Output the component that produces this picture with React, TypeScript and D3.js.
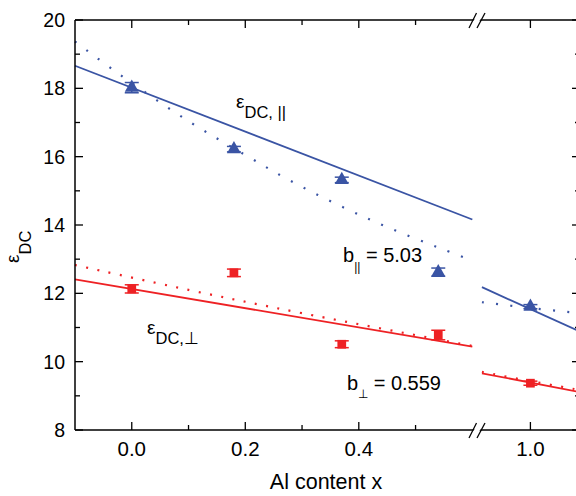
import React from "react";
import * as d3 from "d3";

// Al content of the samples and the measured static dielectric constants
const alContent = [0, 0.18, 0.37, 0.54, 1.0];
const epsPar = [18.02, 16.22, 15.32, 12.62, 11.61];
const errPar = [0.15, 0.08, 0.08, 0.12, 0.06];
const epsPerp = [12.13, 12.6, 10.51, 10.78, 9.37];
const errPerp = [0.12, 0.11, 0.1, 0.14, 0.06];

// solid (linear) fit lines, left and right of the axis break
const parLinX_L = [-0.1, 0.6];
const parLinY_L = [18.66, 14.16];
const parLinX_R = [0.914, 1.088];
const parLinY_R = [12.18, 10.88];
const perpLinX_L = [-0.1, 0.6];
const perpLinY_L = [12.41, 10.44];
const perpLinX_R = [0.914, 1.088];
const perpLinY_R = [9.66, 9.11];

// dotted (bowing) fit curves
const parBowX_L = [-0.1, -0.02, 0.1, 0.2, 0.28, 0.38, 0.46, 0.54, 0.6];
const parBowY_L = [19.37, 18.39, 17.04, 16.05, 15.29, 14.46, 13.87, 13.34, 12.96];
const parBowX_R = [0.914, 1.0, 1.088];
const parBowY_R = [11.74, 11.57, 11.42];
const perpBowX_L = [-0.1, 0.1, 0.3, 0.6];
const perpBowY_L = [12.83, 12.1, 11.42, 10.46];
const perpBowX_R = [0.914, 1.0, 1.088];
const perpBowY_R = [9.7, 9.43, 9.17];

const xMajorL = [0, 0.2, 0.4];
const xMinorL = [0.1, 0.3, 0.5];
const xMajorR = [1.0];
const yMajor = [8, 10, 12, 14, 16, 18, 20];
const yMinor = [9, 11, 13, 15, 17, 19];

const BLUE = "#3a54a4";
const RED = "#ee2124";
const FONT = "'Liberation Sans', Arial, sans-serif";

const App: React.FC = () => {
  const width = 576;
  const height = 496;
  const m = { left: 75, right: 580, top: 20, bottom: 430 };
  const xBreak = 478;

  const xL = d3.scaleLinear().domain([-0.1, 0.61]).range([m.left, xBreak]);
  const xR = d3.scaleLinear().domain([0.907, 1.088]).range([xBreak, m.right]);
  const y = d3.scaleLinear().domain([8, 20]).range([m.bottom, m.top]);
  const xAny = (v: number) => (v > 0.75 ? xR(v) : xL(v));

  const pathOf = (xs: number[], ys: number[], sx: (v: number) => number, curved = false) => {
    const gen = d3
      .line<number>()
      .x((_, i) => sx(xs[i]))
      .y((d) => y(d));
    if (curved) gen.curve(d3.curveCatmullRom);
    return gen(ys) ?? "";
  };

  const tri = d3.symbol().type(d3.symbolTriangle).size(84)() ?? "";
  const sq = d3.symbol().type(d3.symbolSquare).size(76)() ?? "";

  const errBar = (xv: number, yv: number, e: number, color: string, key: string) => {
    const cx = xAny(xv);
    return (
      <g key={key} stroke={color} strokeWidth={1.5}>
        <line x1={cx} x2={cx} y1={y(yv - e)} y2={y(yv + e)} />
        <line x1={cx - 7} x2={cx + 7} y1={y(yv - e)} y2={y(yv - e)} />
        <line x1={cx - 7} x2={cx + 7} y1={y(yv + e)} y2={y(yv + e)} />
      </g>
    );
  };

  const breakMark = (yy: number) => (
    <g>
      <polygon
        points={`${xBreak - 5},${yy + 1.5} ${xBreak + 1},${yy + 1.5} ${xBreak + 3},${yy - 1.5} ${xBreak - 3},${yy - 1.5}`}
        fill="white"
      />
      <line x1={xBreak - 9} y1={yy + 8} x2={xBreak - 1.5} y2={yy - 7} stroke="black" strokeWidth={1.3} />
      <line x1={xBreak - 1} y1={yy + 8} x2={xBreak + 7} y2={yy - 7} stroke="black" strokeWidth={1.3} />
    </g>
  );

  return (
    <svg
      width={width}
      height={height}
      style={{ position: "absolute", left: 0, top: 0, background: "white" }}
      fontFamily={FONT}
    >
      {/* fit lines */}
      <g fill="none" strokeWidth={1.8}>
        <path d={pathOf(parLinX_L, parLinY_L, xL)} stroke={BLUE} />
        <path d={pathOf(parLinX_R, parLinY_R, xR)} stroke={BLUE} />
        <path d={pathOf(perpLinX_L, perpLinY_L, xL)} stroke={RED} />
        <path d={pathOf(perpLinX_R, perpLinY_R, xR)} stroke={RED} />
      </g>
      <g fill="none" strokeWidth={2.2}>
        <path d={pathOf(parBowX_L, parBowY_L, xL, true)} stroke={BLUE} strokeDasharray="2 12.3" />
        <path d={pathOf(parBowX_R, parBowY_R, xR, true)} stroke={BLUE} strokeDasharray="2 12.3" />
        <path d={pathOf(perpBowX_L, perpBowY_L, xL, true)} stroke={RED} strokeDasharray="2 9.5" />
        <path d={pathOf(perpBowX_R, perpBowY_R, xR, true)} stroke={RED} strokeDasharray="2 9.5" />
      </g>

      {/* data with error bars */}
      {alContent.map((xv, i) => errBar(xv, epsPar[i], errPar[i], BLUE, `ep${i}`))}
      {alContent.map((xv, i) => errBar(xv, epsPerp[i], errPerp[i], RED, `er${i}`))}
      {alContent.map((xv, i) => (
        <path key={`tp${i}`} d={tri} transform={`translate(${xAny(xv)},${y(epsPar[i])})`} fill={BLUE} />
      ))}
      {alContent.map((xv, i) => (
        <path key={`sq${i}`} d={sq} transform={`translate(${xAny(xv)},${y(epsPerp[i])})`} fill={RED} />
      ))}

      {/* frame */}
      <g stroke="black" strokeWidth={1.5} fill="none">
        <line x1={m.left} x2={m.right} y1={m.top} y2={m.top} />
        <line x1={m.left} x2={m.right} y1={m.bottom} y2={m.bottom} />
        <line x1={m.left} x2={m.left} y1={m.top} y2={m.bottom} />
        <line x1={m.right} x2={m.right} y1={m.top} y2={m.bottom} />
      </g>

      {/* ticks */}
      <g stroke="black" strokeWidth={1.3}>
        {xMajorL.map((v) => (
          <g key={`xm${v}`}>
            <line x1={xL(v)} x2={xL(v)} y1={m.bottom} y2={m.bottom - 8} />
            <line x1={xL(v)} x2={xL(v)} y1={m.top} y2={m.top + 8} />
          </g>
        ))}
        {xMinorL.map((v) => (
          <g key={`xn${v}`}>
            <line x1={xL(v)} x2={xL(v)} y1={m.bottom} y2={m.bottom - 5} />
            <line x1={xL(v)} x2={xL(v)} y1={m.top} y2={m.top + 5} />
          </g>
        ))}
        {xMajorR.map((v) => (
          <g key={`xr${v}`}>
            <line x1={xR(v)} x2={xR(v)} y1={m.bottom} y2={m.bottom - 8} />
            <line x1={xR(v)} x2={xR(v)} y1={m.top} y2={m.top + 8} />
          </g>
        ))}
        {yMajor.map((v) => (
          <g key={`ym${v}`}>
            <line x1={m.left} x2={m.left + 8} y1={y(v)} y2={y(v)} />
            <line x1={m.right} x2={m.right - 8} y1={y(v)} y2={y(v)} />
          </g>
        ))}
        {yMinor.map((v) => (
          <g key={`yn${v}`}>
            <line x1={m.left} x2={m.left + 5} y1={y(v)} y2={y(v)} />
            <line x1={m.right} x2={m.right - 5} y1={y(v)} y2={y(v)} />
          </g>
        ))}
      </g>

      {breakMark(m.top)}
      {breakMark(m.bottom)}

      {/* tick labels */}
      <g fontSize={20.5} fill="black">
        {xMajorL.map((v) => (
          <text key={`xl${v}`} x={xL(v)} y={456} textAnchor="middle">
            {d3.format(".1f")(v)}
          </text>
        ))}
        {xMajorR.map((v) => (
          <text key={`xlr${v}`} x={xR(v)} y={456} textAnchor="middle">
            {d3.format(".1f")(v)}
          </text>
        ))}
      </g>
      <g fontSize={19.5} fill="black">
        {yMajor.map((v) => (
          <text key={`yl${v}`} x={65} y={y(v) + 7} textAnchor="end">
            {v}
          </text>
        ))}
      </g>

      {/* axis titles */}
      <text x={326} y={489} fontSize={21.5} textAnchor="middle">
        Al content x
      </text>
      <text transform="translate(19,263) rotate(-90)" fontSize={19}>
        ε
        <tspan dy={12} fontSize={16.5}>
          DC
        </tspan>
      </text>

      {/* annotations */}
      <text x={236} y={108} fontSize={19}>
        ε
        <tspan dy={10} fontSize={16.5}>
          DC, ||
        </tspan>
      </text>
      <text x={147} y={334} fontSize={19}>
        ε
        <tspan dy={10} fontSize={16.5}>
          DC,⊥
        </tspan>
      </text>
      <text x={343} y={262} fontSize={20}>
        b
        <tspan dy={9} fontSize={12}>
          ||
        </tspan>
        <tspan dy={-9}> = 5.03</tspan>
      </text>
      <text x={347} y={390} fontSize={20}>
        b
        <tspan dy={8} fontSize={12}>
          ⊥
        </tspan>
        <tspan dy={-8}> = 0.559</tspan>
      </text>
    </svg>
  );
};

export default App;
